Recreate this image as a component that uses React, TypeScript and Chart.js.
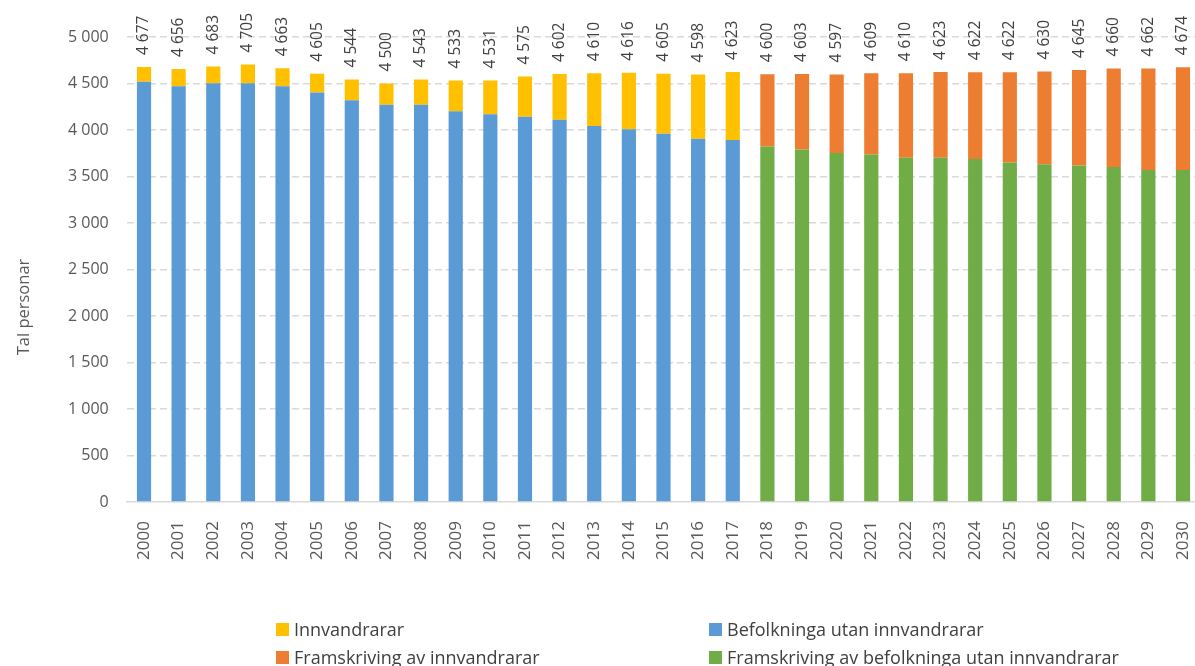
import React, { useEffect, useRef } from "react";
import { Chart, registerables } from "chart.js";

Chart.register(...registerables);

const years: string[] = [
  "2000", "2001", "2002", "2003", "2004", "2005", "2006", "2007", "2008", "2009", "2010",
  "2011", "2012", "2013", "2014", "2015", "2016", "2017", "2018", "2019", "2020",
  "2021", "2022", "2023", "2024", "2025", "2026", "2027", "2028", "2029", "2030",
];

// Totals shown as labels above each bar
const totals: number[] = [
  4677, 4656, 4683, 4705, 4663, 4605, 4544, 4500, 4543, 4533, 4531,
  4575, 4602, 4610, 4616, 4605, 4598, 4623, 4600, 4603, 4597,
  4609, 4610, 4623, 4622, 4622, 4630, 4645, 4660, 4662, 4674,
];

// 2000–2017
const befolkningaUtan: number[] = [
  4520, 4471, 4503, 4503, 4471, 4403, 4320, 4271, 4271, 4202, 4170,
  4143, 4111, 4043, 4007, 3960, 3906, 3892,
];
const innvandrarar: number[] = [
  157, 185, 180, 202, 192, 202, 224, 229, 272, 331, 361,
  432, 491, 567, 609, 645, 692, 731,
];

// 2018–2030
const framBefolkning: number[] = [
  3823, 3790, 3753, 3737, 3701, 3701, 3687, 3651, 3633, 3619, 3601, 3569, 3569,
];
const framInnvandrarar: number[] = [
  777, 813, 844, 872, 909, 922, 935, 971, 997, 1026, 1059, 1093, 1105,
];

const yTicks: number[] = [0, 500, 1000, 1500, 2000, 2500, 3000, 3500, 4000, 4500, 5000];

const COLORS = {
  yellow: "#FFC000",
  blue: "#5B9BD5",
  orange: "#ED7D31",
  green: "#70AD47",
};

const FONT = "'Open Sans', 'DejaVu Sans', sans-serif";

const fmt = (n: number): string => {
  const s = Math.round(n).toString();
  return s.replace(/\B(?=(\d{3})+(?!\d))/g, " ");
};

const nHist = befolkningaUtan.length;
const nProj = framBefolkning.length;
const nulls = (k: number) => new Array(k).fill(null);

const labelsPlugin = {
  id: "totalLabels",
  afterDatasetsDraw(chart: any) {
    const { ctx, scales } = chart;
    const xs = scales.x;
    const ys = scales.y;
    ctx.save();
    ctx.fillStyle = "#404040";
    ctx.font = `15.5px ${FONT}`;
    ctx.textAlign = "left";
    ctx.textBaseline = "middle";
    totals.forEach((t, i) => {
      const x = xs.getPixelForValue(i);
      const y = ys.getPixelForValue(t) - 12;
      ctx.save();
      ctx.translate(x, y);
      ctx.rotate(-Math.PI / 2);
      ctx.fillText(fmt(t), 0, 0);
      ctx.restore();
    });
    // y-axis title
    ctx.fillStyle = "#595959";
    ctx.font = `16.5px ${FONT}`;
    ctx.textAlign = "center";
    ctx.save();
    ctx.translate(24, 307);
    ctx.rotate(-Math.PI / 2);
    ctx.fillText("Tal personar", 0, 0);
    ctx.restore();
    ctx.restore();
  },
};

const legendItems = [
  { label: "Innvandrarar", color: COLORS.yellow, left: 276, top: 620 },
  { label: "Befolkninga utan innvandrarar", color: COLORS.blue, left: 709, top: 620 },
  { label: "Framskriving av innvandrarar", color: COLORS.orange, left: 276, top: 648 },
  { label: "Framskriving av befolkninga utan innvandrarar", color: COLORS.green, left: 709, top: 648 },
];

export default function App() {
  const canvasRef = useRef<HTMLCanvasElement | null>(null);

  useEffect(() => {
    if (!canvasRef.current) return;
    const chart = new Chart(canvasRef.current, {
      type: "bar",
      data: {
        labels: years,
        datasets: [
          {
            label: "Befolkninga utan innvandrarar",
            data: [...befolkningaUtan, ...nulls(nProj)],
            backgroundColor: COLORS.blue,
          },
          {
            label: "Framskriving av befolkninga utan innvandrarar",
            data: [...nulls(nHist), ...framBefolkning],
            backgroundColor: COLORS.green,
          },
          {
            label: "Innvandrarar",
            data: [...innvandrarar, ...nulls(nProj)],
            backgroundColor: COLORS.yellow,
          },
          {
            label: "Framskriving av innvandrarar",
            data: [...nulls(nHist), ...framInnvandrarar],
            backgroundColor: COLORS.orange,
          },
        ],
      },
      options: {
        responsive: false,
        animation: false,
        devicePixelRatio: 1,
        layout: { padding: { top: 37, left: 0, right: 4.7, bottom: 0 } },
        datasets: {
          bar: { categoryPercentage: 1, barPercentage: 0.41 },
        },
        plugins: {
          legend: { display: false },
          tooltip: { enabled: false },
          title: { display: false },
        },
        scales: {
          x: {
            stacked: true,
            grid: { display: false, drawTicks: false },
            border: { display: true, color: "#D9D9D9", width: 1.5 },
            ticks: {
              color: "#595959",
              font: { family: FONT, size: 17 },
              minRotation: 90,
              maxRotation: 90,
              padding: 19,
              autoSkip: false,
            },
            afterFit: (s: any) => {
              s.height = 164;
              s.paddingLeft = 0;
              s.paddingRight = 0;
            },
          },
          y: {
            stacked: true,
            min: 0,
            max: 5000,
            afterBuildTicks: (s: any) => {
              s.ticks = yTicks.map((v) => ({ value: v }));
            },
            grid: {
              color: (c: any) => (c.tick && c.tick.value === 0 ? "rgba(0,0,0,0)" : "#D9D9D9"),
              lineWidth: 1.5,
              drawTicks: false,
            },
            border: { display: false, dash: [7, 4] },
            ticks: {
              color: "#595959",
              font: { family: FONT, size: 16 },
              padding: 18,
              callback: (v: any) => fmt(Number(v)),
            },
            afterFit: (s: any) => {
              s.width = 126.7;
            },
          },
        },
      },
      plugins: [labelsPlugin],
    });
    return () => chart.destroy();
  }, []);

  return (
    <div
      style={{
        position: "absolute",
        left: 0,
        top: 0,
        width: 1195,
        height: 666,
        overflow: "hidden",
        background: "#fff",
      }}
    >
      <canvas ref={canvasRef} width={1205} height={666} style={{ display: "block" }} />
      {legendItems.map((it) => (
        <div
          key={it.label}
          style={{
            position: "absolute",
            left: it.left,
            top: it.top,
            height: 18,
            display: "flex",
            alignItems: "center",
            fontFamily: FONT,
            fontSize: 18,
            color: "#404040",
            whiteSpace: "nowrap",
            lineHeight: "18px",
          }}
        >
          <span
            style={{
              display: "inline-block",
              width: 13,
              height: 13,
              background: it.color,
              marginRight: 5,
            }}
          />
          <span>{it.label}</span>
        </div>
      ))}
    </div>
  );
}
